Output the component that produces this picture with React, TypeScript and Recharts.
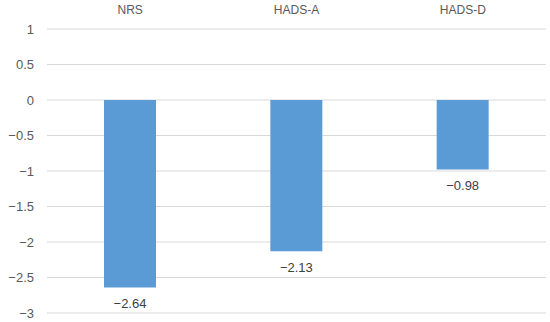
import React from "react";
import { BarChart, Bar, XAxis, YAxis, CartesianGrid, LabelList } from "recharts";

const categories = ["NRS", "HADS-A", "HADS-D"];
const values = [-2.64, -2.13, -0.98];
const yTicks = [-3, -2.5, -2, -1.5, -1, -0.5, 0, 0.5, 1];

const data = categories.map((name, i) => ({ name, value: values[i] }));

const fmt = (v: number) => String(v).replace("-", "\u2212");

const renderLabel = (props: any) => {
  const { x, y, width, height, value } = props;
  const bottom = Math.max(y, y + height);
  return (
    <text
      x={x + width / 2}
      y={bottom + 16}
      textAnchor="middle"
      dominantBaseline="central"
      fill="#404040"
      fontSize={13}
    >
      {fmt(value)}
    </text>
  );
};

export default function App() {
  return (
    <div style={{ position: "absolute", left: 0, top: 0, background: "#fff" }}>
      <BarChart
        width={550}
        height={322}
        data={data}
        margin={{ top: 9, right: 4, bottom: 9, left: 0 }}
        style={{ fontFamily: "'Liberation Sans', Arial, sans-serif" }}
      >
        <CartesianGrid horizontal vertical={false} stroke="#d9d9d9" />
        <XAxis
          dataKey="name"
          orientation="top"
          height={20}
          axisLine={false}
          tickLine={false}
          tickSize={0}
          tickMargin={15}
          tick={{ fill: "#595959", fontSize: 12 }}
        />
        <YAxis
          domain={[-3, 1]}
          ticks={yTicks}
          width={47}
          axisLine={false}
          tickLine={false}
          tickSize={0}
          tickMargin={13}
          tickFormatter={fmt}
          tick={{ fill: "#595959", fontSize: 13 }}
        />
        <Bar dataKey="value" fill="#5b9bd5" barSize={52} isAnimationActive={false}>
          <LabelList dataKey="value" content={renderLabel} />
        </Bar>
      </BarChart>
    </div>
  );
}
